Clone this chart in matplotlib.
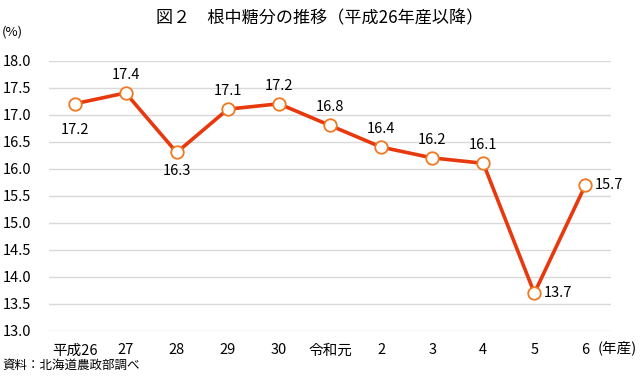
import matplotlib
matplotlib.use("Agg")
import matplotlib.pyplot as plt

plt.rcParams['font.family'] = ['Noto Sans CJK JP', 'DejaVu Sans']

# Data
years = ['平成26', '27', '28', '29', '30', '令和元', '2', '3', '4', '5', '6']
sugar = [17.2, 17.4, 16.3, 17.1, 17.2, 16.8, 16.4, 16.2, 16.1, 13.7, 15.7]
# where each label sits relative to its point
label_pos = ['low', 'above', 'below', 'above', 'above', 'above',
             'above', 'above', 'above', 'right', 'right']
yticks = [13.0, 13.5, 14.0, 14.5, 15.0, 15.5, 16.0, 16.5, 17.0, 17.5, 18.0]

fig = plt.figure(figsize=(6.4, 3.77), dpi=100)
ax = fig.add_axes([49 / 640, 1 - 331 / 377, (611 - 49) / 640, (331 - 60.5) / 377])

x = list(range(len(years)))
ax.plot(x, sugar, color='#E8380D', lw=2.6, zorder=2)
ax.plot(x, sugar, ls='none', marker='o', ms=9, mfc='white',
        mec='#F07820', mew=1.3, zorder=3)

for xi, v, p in zip(x, sugar, label_pos):
    txt = f'{v:.1f}'
    if p == 'above':
        ax.annotate(txt, (xi, v), xytext=(0, 8), textcoords='offset points',
                    ha='center', va='bottom', fontsize=10.5)
    elif p == 'below':
        ax.annotate(txt, (xi, v), xytext=(0, -8), textcoords='offset points',
                    ha='center', va='top', fontsize=10.5)
    elif p == 'low':
        ax.annotate(txt, (xi, v), xytext=(0, -14), textcoords='offset points',
                    ha='center', va='top', fontsize=10.5)
    else:
        ax.annotate(txt, (xi, v), xytext=(7, 0), textcoords='offset points',
                    ha='left', va='center', fontsize=10.5)

ax.set_xlim(-0.5, len(years) - 0.5)
ax.set_ylim(13.0, 18.0)
ax.set_yticks(yticks)
ax.set_yticklabels([f'{t:.1f}' for t in yticks], fontsize=10.5)
ax.set_xticks(x)
ax.set_xticklabels(years, fontsize=10.5)
ax.tick_params(axis='x', length=0, pad=9)
ax.tick_params(axis='y', length=0, pad=13)

ax.grid(axis='y', color='#d9d9d9', lw=1)
ax.set_axisbelow(True)
for s in ax.spines.values():
    s.set_visible(False)

fig.text(0.5, 1 - 18 / 377, '図２　根中糖分の推移（平成26年産以降）',
         ha='center', va='center', fontsize=12.3)
fig.text(2 / 640, 1 - 32 / 377, '(%)', ha='left', va='center', fontsize=9.5)
fig.text(598 / 640, 1 - 348 / 377, '(年産)', ha='left', va='center', fontsize=10.5)
fig.text(2 / 640, 1 - 365 / 377, '資料：北海道農政部調べ', ha='left', va='center',
         fontsize=9)

fig.savefig('out.png', dpi=100)
